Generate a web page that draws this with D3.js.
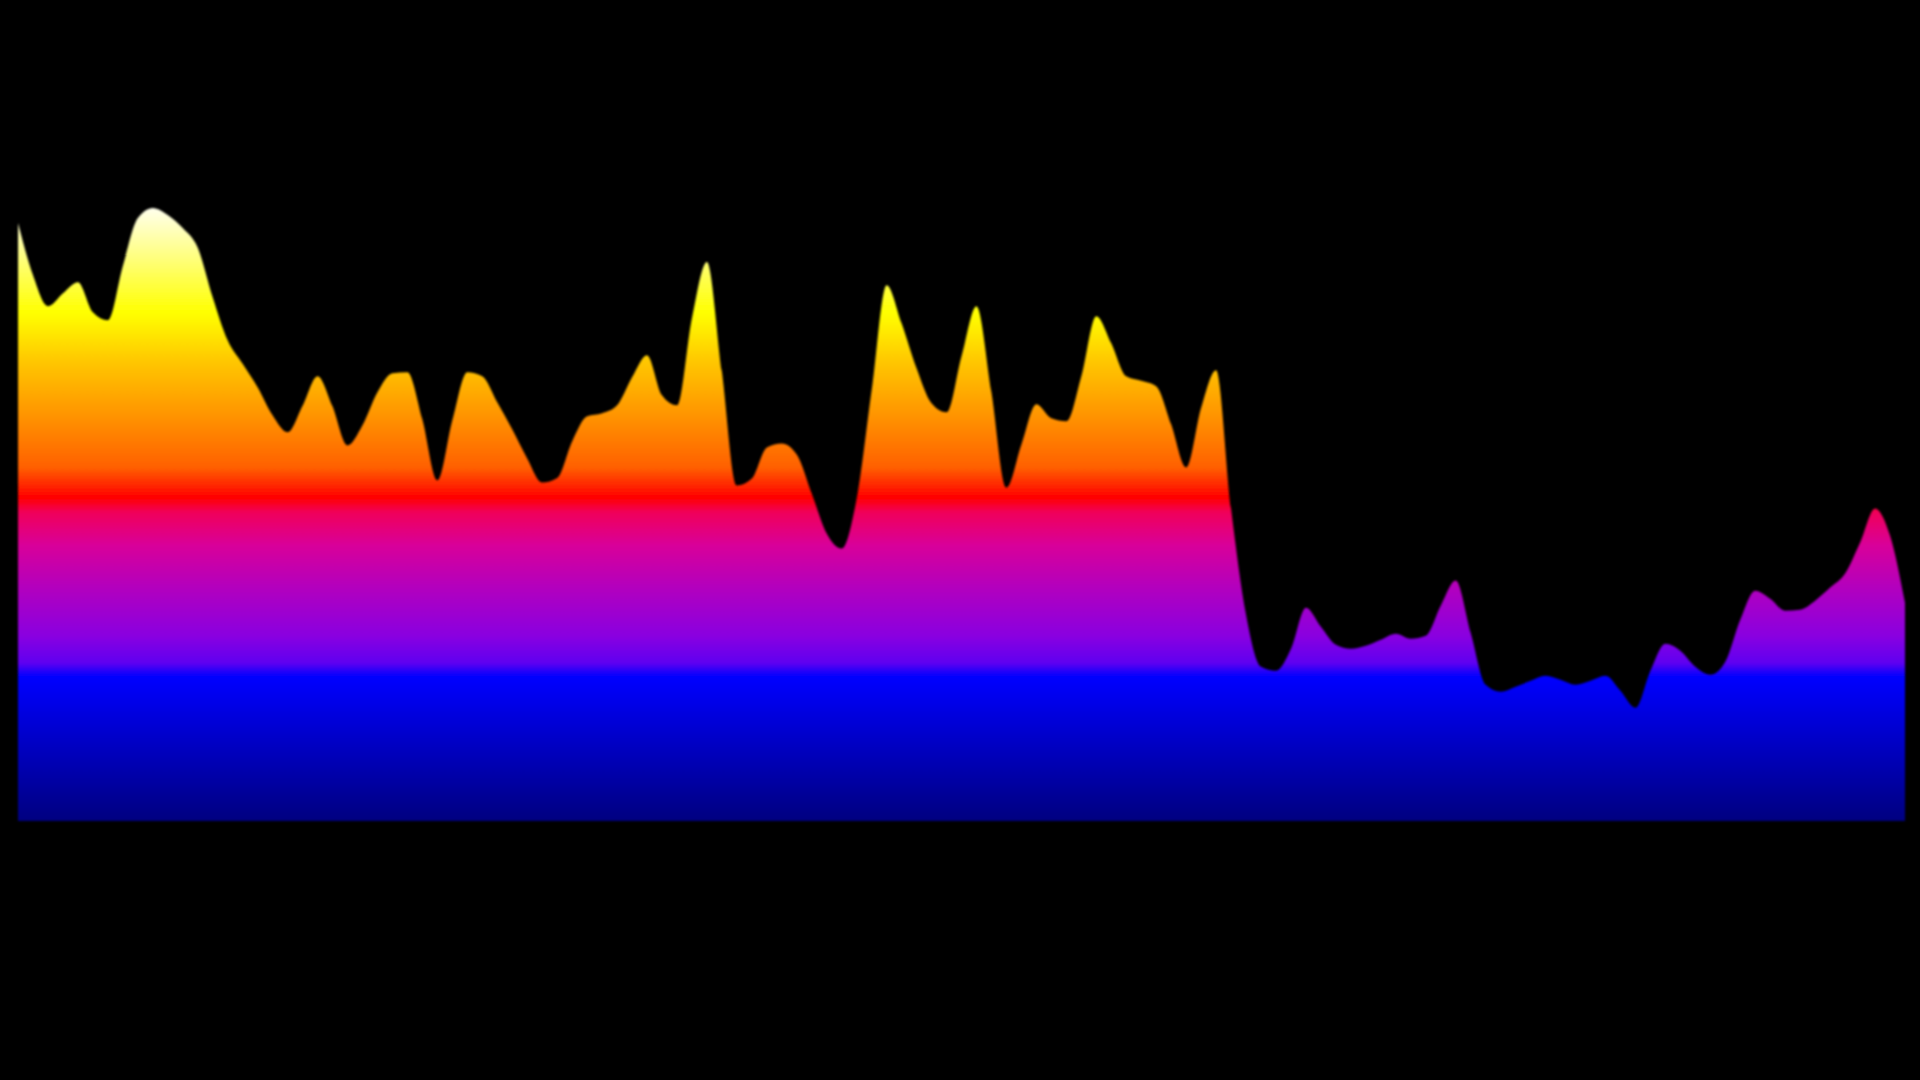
<!DOCTYPE html>
<html>
<head>
<meta charset="utf-8">
<script src="https://cdn.jsdelivr.net/npm/d3@7"></script>
<style>
    body { margin: 0; background: #000; overflow: hidden; }
    #chart-area { width: 1920px; height: 1080px; }
</style>
</head>
<body>
<div id="chart-area"></div>
<script>
// series, one sample per step
const steps = d3.range(127);
const values = [
    119.4, 109, 102.8, 105.4, 107.6, 101.6, 100, 110.8, 120.4, 122.4,
    121, 118.4, 114.5, 104.6, 96, 91.3, 86.6, 81, 77.6, 82.9,
    88.8, 82.8, 75, 79, 85.6, 89.4, 89.6, 80.2, 68, 80,
    89.6, 88.8, 83.6, 78.2, 72.4, 67.6, 68.5, 75.8, 80.8, 81.4,
    83, 88.6, 93, 85, 83, 100.4, 111.6, 89.8, 67, 68.4,
    74.6, 75.4, 73.2, 65.4, 57.4, 54.4, 64.4, 86, 107, 99.4,
    90.4, 83.4, 81.6, 92.8, 102.8, 85.6, 66.6, 75.2, 83.2, 80.4,
    79.8, 88.8, 100.8, 95.4, 88.8, 87.9, 86.8, 79.2, 70.6, 82.5,
    90, 62.4, 41.2, 30.8, 30, 34.4, 42.6, 38.8, 35.2, 34.4,
    35, 36.2, 37.4, 36.4, 37, 43, 48, 37.6, 27.2, 25.8,
    26.8, 28, 29, 28.2, 27.2, 28, 29, 26, 22.6, 30,
    35.4, 34, 30.8, 29.2, 31.8, 40.2, 46, 44.4, 42, 42.2,
    44, 46.6, 49.4, 55.6, 62.4, 57, 43.6
];
const yMax = 124;

// colour ramp, keyed on value
const stopValues = [0, 28.8, 31.6, 37, 46, 55, 61.6, 64.6, 70.6, 82, 92, 101.4, 124];
const stopColors = ['#000080', '#0000ff', '#6000f0', '#8a00e0', '#b000c0', '#d8009a', '#f0005a',
    '#ff0000', '#ff6000', '#ff9900', '#ffc800', '#ffff00', '#ffffff'];

class GradientArea {
    constructor(parentElement, data) {
        this.parentElement = parentElement;
        this.data = data;
        this.initVis();
    }

    initVis() {
        let vis = this;

        vis.margin = {top: 200, right: 15, bottom: 259, left: 18};
        vis.width = 1920 - vis.margin.left - vis.margin.right;
        vis.height = 1080 - vis.margin.top - vis.margin.bottom;

        vis.svg = d3.select("#" + vis.parentElement).append("svg")
            .attr("width", 1920)
            .attr("height", 1080)
            .style("background", "#000")
            .append("g")
            .attr("transform", "translate(" + vis.margin.left + "," + vis.margin.top + ")");

        vis.x = d3.scaleLinear()
            .domain(d3.extent(vis.data, d => d.step))
            .range([0, vis.width]);

        vis.y = d3.scaleLinear()
            .domain([0, yMax])
            .range([vis.height, 0]);

        vis.wrangleData();
    }

    wrangleData() {
        let vis = this;

        vis.stops = stopValues.map((v, i) => ({offset: v / yMax, color: stopColors[i]}));

        vis.updateVis();
    }

    updateVis() {
        let vis = this;

        let defs = vis.svg.append("defs");

        defs.append("linearGradient")
            .attr("id", "area-gradient")
            .attr("gradientUnits", "userSpaceOnUse")
            .attr("x1", 0).attr("y1", vis.y(0))
            .attr("x2", 0).attr("y2", vis.y(yMax))
            .selectAll("stop")
            .data(vis.stops)
            .enter().append("stop")
            .attr("offset", d => d.offset)
            .attr("stop-color", d => d.color);

        // reference edges are a little soft
        defs.append("filter")
            .attr("id", "soft")
            .append("feGaussianBlur")
            .attr("stdDeviation", 1.3);

        let area = d3.area()
            .x(d => vis.x(d.step))
            .y0(vis.y(0))
            .y1(d => vis.y(d.value))
            .curve(d3.curveMonotoneX);

        vis.svg.append("path")
            .datum(vis.data)
            .attr("d", area)
            .attr("fill", "url(#area-gradient)")
            .attr("filter", "url(#soft)");
    }
}

let series = steps.map((s, i) => ({step: s, value: values[i]}));
new GradientArea("chart-area", series);
</script>
</body>
</html>
